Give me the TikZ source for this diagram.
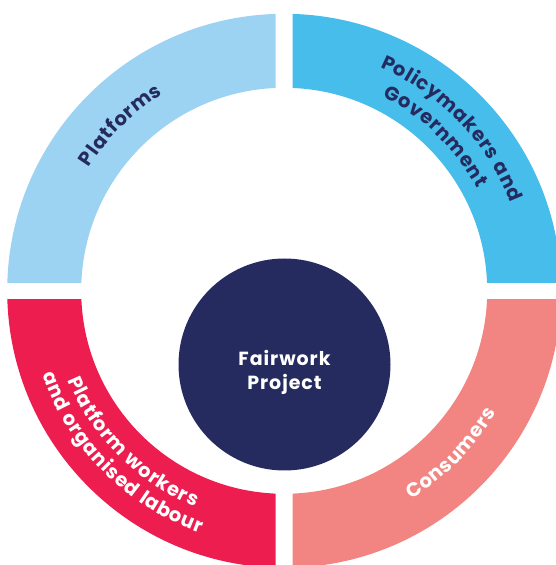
\documentclass[tikz,border=0pt]{standalone}
\usepackage{fontspec}
\setmainfont{Poppins}
\usetikzlibrary{decorations.text}
\definecolor{cPlat}{HTML}{9CD3F2}
\definecolor{cPol}{HTML}{46BDEB}
\definecolor{cWork}{HTML}{ED1E4F}
\definecolor{cCons}{HTML}{F28582}
\definecolor{navy}{HTML}{252A5F}
\newcommand{\arcfont}{\fontsize{19.5}{22}\selectfont\bfseries}
\tikzset{
  arctext/.style n args={2}{decorate, decoration={text effects along path, text={#1}, text align=center,
     text effects/.cd, text along path,
     character widths={font=\arcfont, inner xsep=0.4pt},
     characters={text=#2, font=\arcfont}}},
}
\begin{document}
\begin{tikzpicture}[x=1pt,y=1pt]
\useasboundingbox (0,0) rectangle (556,565);
\coordinate (c) at (284.2,274.2);
\def\Ro{277}\def\Ri{203}\def\g{8.5}
% top-left
\begin{scope}
\clip ([shift={(-300,\g)}]c) rectangle ([shift={(-\g,300)}]c);
\fill[cPlat, even odd rule] (c) circle[radius=\Ro] (c) circle[radius=\Ri];
\end{scope}
% top-right
\begin{scope}
\clip ([shift={(\g,\g)}]c) rectangle ([shift={(300,300)}]c);
\fill[cPol, even odd rule] (c) circle[radius=\Ro] (c) circle[radius=\Ri];
\end{scope}
% bottom-left
\begin{scope}
\clip ([shift={(-300,-300)}]c) rectangle ([shift={(-\g,-\g)}]c);
\fill[cWork, even odd rule] (c) circle[radius=\Ro] (c) circle[radius=\Ri];
\end{scope}
% bottom-right
\begin{scope}
\clip ([shift={(\g,-300)}]c) rectangle ([shift={(300,-\g)}]c);
\fill[cCons, even odd rule] (c) circle[radius=\Ro] (c) circle[radius=\Ri];
\end{scope}
% centre
\node[circle, fill=navy, minimum size=212pt, inner sep=0pt] (fw) at (284.5,200.5) {};
\node[text=white, align=center, inner sep=0pt,
      font=\fontsize{19}{24}\selectfont\bfseries\addfontfeature{LetterSpace=5}] (fwt)
      at ([yshift=-8pt]fw.center) {Fairwork\\Project};
% labels
\path[arctext={Platforms}{navy}] ([shift={(179.7:231)}]c) arc[start angle=179.7, end angle=89.7, radius=231];
\path[arctext={Policymakers and}{navy}] ([shift={(89:243)}]c) arc[start angle=89, end angle=-1, radius=243];
\path[arctext={Government}{navy}] ([shift={(90.5:218)}]c) arc[start angle=90.5, end angle=0.5, radius=218];
\path[arctext={Platform workers}{white}] ([shift={(180:234)}]c) arc[start angle=180, end angle=270, radius=234];
\path[arctext={and organised labour}{white}] ([shift={(180:256)}]c) arc[start angle=180, end angle=270, radius=256];
\path[arctext={Consumers}{white}] ([shift={(270.7:244)}]c) arc[start angle=270.7, end angle=360.7, radius=244];
\end{tikzpicture}
\end{document}
